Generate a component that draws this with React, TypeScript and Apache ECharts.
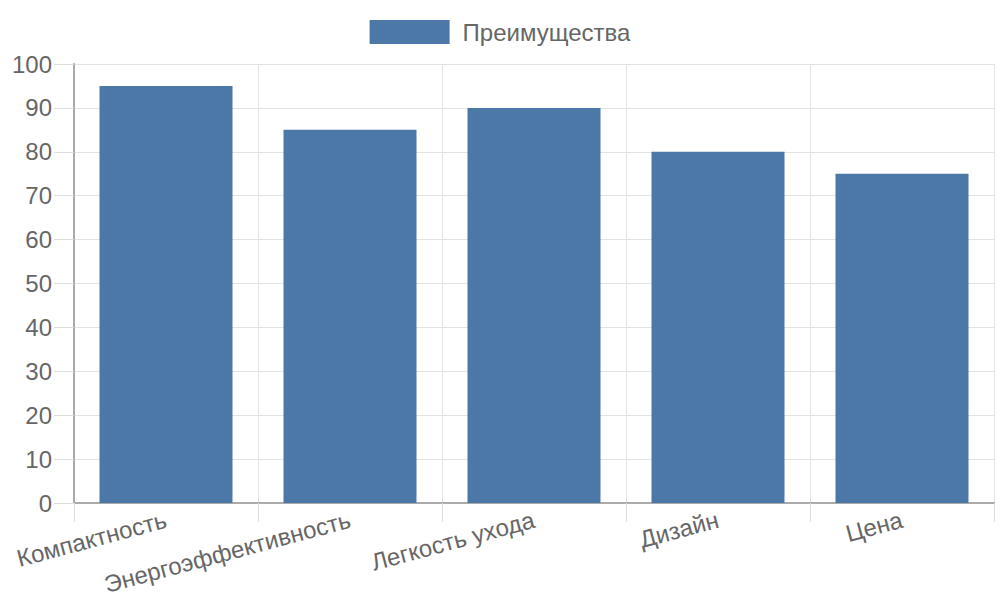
import * as echarts from "echarts";
import { useEffect, useRef } from "react";

const categories = ["Компактность", "Энергоэффективность", "Легкость ухода", "Дизайн", "Цена"];
const advantages = [95, 85, 90, 80, 75];
const seriesName = "Преимущества";

const App = () => {
  const chartRef = useRef<HTMLDivElement | null>(null);

  useEffect(() => {
    const chart = echarts.init(chartRef.current!, null, { renderer: "svg" });
    const font = "'Liberation Sans', Arial, sans-serif";
    chart.setOption({
      animation: false,
      textStyle: { fontFamily: font },
      legend: {
        data: [seriesName],
        top: 15,
        left: "center",
        itemWidth: 80,
        itemHeight: 24,
        icon: "rect",
        textStyle: { fontSize: 24, color: "#666", fontFamily: font, padding: [0, 0, 0, 8] },
      },
      grid: { left: 74, right: 6, top: 64, bottom: 97, containLabel: false },
      xAxis: {
        type: "category",
        data: categories,
        axisLine: { lineStyle: { color: "#aaa", width: 2 } },
        axisTick: { show: true, length: 19, lineStyle: { color: "#ddd" } },
        splitLine: { show: true, lineStyle: { color: "#e3e3e3" } },
        axisLabel: { rotate: 15, fontSize: 24, color: "#666", margin: 16, fontFamily: font },
      },
      yAxis: {
        type: "value",
        min: 0,
        max: 100,
        interval: 10,
        axisLine: { show: true, lineStyle: { color: "#aaa", width: 2 } },
        axisTick: { show: true, length: 20, lineStyle: { color: "#ddd" } },
        splitLine: { show: true, lineStyle: { color: "#e3e3e3" } },
        axisLabel: { fontSize: 24, color: "#666", margin: 22, fontFamily: font },
      },
      series: [
        {
          name: seriesName,
          type: "bar",
          data: advantages,
          barWidth: 133,
          itemStyle: { color: "#4c78a8" },
        },
      ],
    });
    return () => {
      chart.dispose();
    };
  }, []);

  return <div ref={chartRef} style={{ width: "1000px", height: "600px", position: "absolute", left: 0, top: 0 }} />;
};

export default App;
